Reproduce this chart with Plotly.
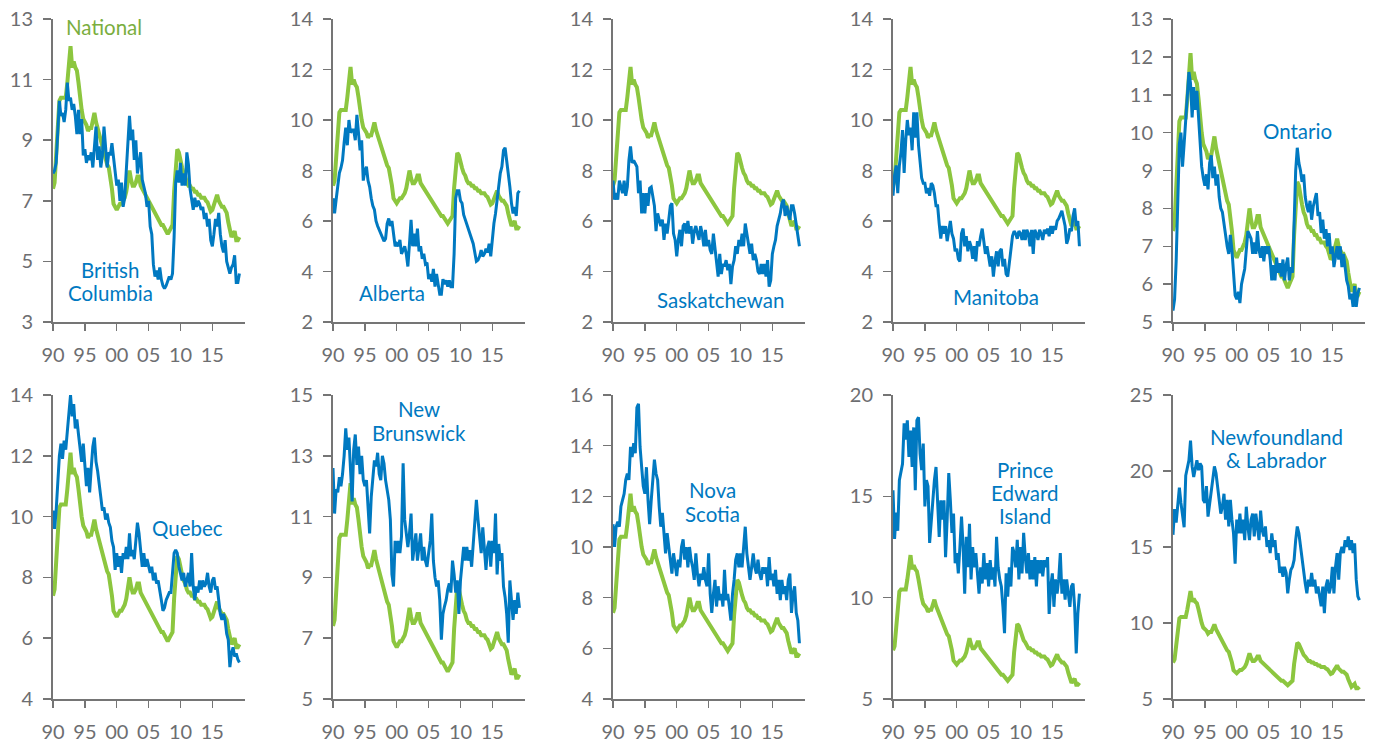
import plotly.graph_objects as go
import pandas as pd

# ---------------- data (quarterly) ----------------
dates = pd.date_range("1990-01-01", periods=118, freq="QS")

national = [7.4, 7.6, 8.5, 9.6, 10.3, 10.4, 10.4, 10.4, 10.4, 10.9, 11.5, 12.1,
            11.4, 11.6, 11.4, 11.3, 10.9, 10.3, 10.0, 9.7, 9.6, 9.5, 9.3, 9.4,
            9.4, 9.6, 9.9, 9.6, 9.4, 9.1, 8.9, 8.7, 8.5, 8.3, 8.2, 8.1,
            7.8, 7.4, 6.9, 6.8, 6.7, 6.8, 6.9, 6.9, 7.0, 7.1, 7.3, 7.8,
            8.0, 7.7, 7.5, 7.5, 7.6, 7.8, 7.8, 7.5, 7.4, 7.3, 7.2, 7.1,
            7.0, 6.9, 6.8, 6.7, 6.6, 6.5, 6.4, 6.3, 6.2, 6.2, 6.1, 6.0,
            5.9, 6.0, 6.1, 6.2, 7.3, 8.3, 8.7, 8.6, 8.3, 8.1, 7.9, 7.8,
            7.6, 7.5, 7.5, 7.4, 7.4, 7.3, 7.3, 7.2, 7.2, 7.1, 7.1, 7.1,
            7.0, 6.95, 6.8, 6.65, 6.7, 6.9, 7.1, 7.2, 7.0, 6.9, 6.8, 6.8,
            6.7, 6.6, 6.3, 6.1, 5.8, 5.9, 6.0, 5.7, 5.7, 5.8]

british_columbia = [7.9, 8.0, 8.25, 9.5, 10.3, 9.8, 9.9, 9.6, 10.0, 10.9, 10.3, 10.4,
                    10.0, 10.2, 9.8, 9.2, 10.0, 9.2, 9.7, 8.5, 8.7, 8.25, 8.5, 8.35,
                    8.6, 8.1, 8.7, 9.45, 8.35, 8.8, 8.1, 8.5, 9.45, 8.6, 8.1, 8.6,
                    8.5, 8.9, 8.4, 7.8, 7.5, 7.7, 7.0, 7.6, 6.8, 7.1, 8.1, 9.2,
                    9.8, 9.0, 9.35, 8.35, 9.0, 7.9, 8.35, 8.6, 7.7, 7.5, 7.25, 6.8,
                    7.0, 6.15, 5.9, 4.9, 4.5, 4.7, 4.4, 4.8, 4.4, 4.2, 4.1, 4.2,
                    4.4, 4.5, 4.4, 4.6, 5.8, 7.6, 8.0, 7.6, 8.25, 7.5, 7.9, 7.5,
                    8.6, 8.2, 7.4, 7.0, 6.7, 7.1, 6.8, 7.0, 6.9, 6.7, 6.8, 6.4,
                    6.6, 6.15, 6.4, 5.7, 5.5, 5.9, 6.4, 6.15, 6.6, 5.9, 5.5, 5.3,
                    5.7, 5.0, 4.8, 4.6, 4.8, 4.9, 5.2, 4.3, 4.3, 4.6]

alberta = [6.9, 6.3, 6.85, 7.5, 7.9, 8.1, 8.4, 9.1, 9.7, 9.0, 10.0, 9.5,
           9.6, 9.6, 9.2, 10.2, 9.3, 8.8, 9.2, 7.6, 8.0, 8.15, 7.6, 7.35,
           6.9, 6.6, 6.45, 6.0, 5.8, 5.65, 5.5, 5.4, 5.2, 5.3, 5.9, 6.1,
           5.8, 6.0, 5.5, 5.0, 5.1, 5.0, 5.25, 4.7, 4.85, 5.0, 4.7, 4.2,
           5.1, 6.05, 5.0, 5.5, 5.0, 5.7, 4.8, 5.0, 4.5, 4.7, 4.3, 4.35,
           3.7, 3.9, 3.6, 4.1, 3.4, 3.9, 3.5, 3.1, 3.1, 3.7, 3.5, 3.65,
           3.4, 3.65, 3.4, 3.4, 4.7, 6.9, 7.2, 7.2, 6.8, 6.7, 6.25, 6.05,
           5.8, 5.65, 5.5, 5.25, 5.1, 4.75, 4.4, 4.45, 4.6, 4.85, 4.6, 4.7,
           4.9, 4.75, 5.1, 4.6, 5.3, 5.9, 6.3, 6.85, 7.6, 7.9, 8.15, 8.8,
           8.9, 8.4, 8.0, 7.35, 6.7, 6.3, 6.55, 6.2, 7.1, 7.2]

saskatchewan = [7.6, 6.85, 7.1, 6.85, 7.6, 7.35, 7.1, 7.6, 7.0, 7.35, 8.4, 8.95,
                8.3, 8.4, 8.3, 8.15, 7.1, 7.6, 6.3, 7.1, 6.3, 7.1, 6.6, 7.3,
                7.35, 7.0, 6.6, 5.6, 6.3, 6.05, 5.8, 6.05, 5.25, 5.9, 5.5, 6.05,
                6.6, 6.7, 5.5, 5.25, 4.6, 5.25, 5.65, 5.0, 5.8, 5.9, 5.5, 6.0,
                5.5, 5.8, 5.1, 5.6, 5.8, 5.5, 5.25, 5.8, 5.5, 5.0, 5.65, 5.0,
                5.25, 4.85, 4.7, 5.5, 4.85, 4.2, 3.8, 4.7, 3.9, 4.3, 4.2, 4.45,
                4.05, 4.3, 3.5, 4.2, 4.45, 5.0, 4.7, 5.25, 5.0, 5.5, 5.0, 5.9,
                5.5, 5.0, 4.7, 5.1, 4.45, 4.7, 4.45, 4.0, 3.9, 4.3, 3.9, 4.3,
                3.8, 4.45, 3.4, 3.65, 4.7, 5.0, 5.25, 5.8, 6.05, 6.3, 6.7, 6.85,
                6.2, 6.6, 6.3, 6.05, 6.6, 6.6, 6.3, 5.9, 5.5, 5.0]

manitoba = [7.0, 7.8, 8.2, 7.1, 8.2, 8.7, 9.6, 7.9, 9.2, 10.0, 9.4, 9.7,
            8.8, 10.3, 9.3, 10.3, 9.0, 8.2, 7.7, 7.5, 7.5, 7.1, 7.3, 7.0,
            7.5, 7.4, 7.1, 6.6, 6.6, 5.9, 5.3, 5.8, 5.5, 5.8, 5.2, 5.6,
            6.0, 5.5, 5.3, 4.8, 4.9, 4.5, 4.4, 5.5, 5.7, 5.0, 5.4, 4.8,
            5.2, 5.0, 4.5, 5.0, 4.4, 5.2, 5.0, 5.4, 5.7, 5.2, 4.7, 5.0,
            4.5, 4.2, 4.6, 3.8, 4.4, 4.8, 4.2, 4.8, 4.9, 4.2, 4.5, 3.9,
            3.8, 4.3, 4.9, 5.4, 5.6, 5.5, 5.3, 5.6, 5.5, 5.25, 5.65, 5.25,
            5.65, 5.5, 5.0, 5.65, 4.7, 5.65, 5.5, 5.25, 5.65, 5.5, 5.25, 5.65,
            5.5, 5.7, 5.4, 5.8, 5.5, 5.8, 5.65, 6.0, 6.1, 6.3, 6.4, 6.1,
            5.8, 5.1, 5.3, 5.7, 5.6, 6.2, 6.5, 5.8, 6.0, 5.0]

ontario = [5.3, 5.6, 6.6, 8.3, 9.7, 10.0, 9.1, 9.7, 10.3, 10.9, 11.6, 11.3,
           10.4, 11.2, 10.6, 11.1, 10.3, 9.6, 9.1, 8.8, 8.6, 8.9, 8.5, 9.2,
           9.4, 8.8, 9.1, 8.6, 8.9, 8.3, 8.0, 7.9, 7.6, 7.2, 7.0, 6.8,
           7.3, 6.9, 6.3, 5.7, 5.6, 5.8, 5.5, 6.0, 6.2, 6.4, 6.9, 7.4,
           7.3, 7.2, 6.8, 7.1, 6.8, 7.4, 6.9, 6.7, 7.0, 6.6, 7.0, 6.8,
           7.0, 6.65, 6.1, 6.5, 6.1, 6.7, 6.3, 6.55, 6.2, 6.65, 6.1, 6.5,
           6.7, 6.1, 6.45, 6.3, 7.6, 9.0, 9.6, 9.2, 9.0, 8.7, 8.9, 8.3,
           8.05, 7.9, 8.2, 7.7, 8.05, 8.2, 8.4, 7.8, 7.9, 7.35, 7.7, 7.2,
           7.45, 7.0, 7.35, 6.8, 7.0, 6.45, 6.8, 7.0, 6.65, 7.0, 6.45, 6.8,
           6.45, 6.1, 5.95, 5.6, 5.75, 5.4, 5.95, 5.4, 5.75, 5.9]

quebec = [10.2, 9.6, 10.2, 11.2, 12.0, 12.4, 11.9, 12.5, 12.2, 12.8, 13.4, 14.0,
          13.3, 13.7, 12.9, 13.2, 12.7, 12.2, 11.8, 12.4, 11.8, 11.0, 11.6, 10.8,
          11.6, 12.3, 12.6, 11.8, 11.5, 10.95, 10.65, 10.2, 10.3, 9.9, 10.1, 9.8,
          9.65, 9.2, 9.0, 8.25, 8.8, 8.35, 8.7, 8.15, 8.8, 8.6, 9.0, 8.6,
          9.45, 8.7, 8.9, 8.6, 9.2, 9.8, 9.45, 9.0, 8.35, 8.8, 8.35, 8.6,
          8.35, 8.15, 8.35, 7.9, 8.15, 7.8, 7.9, 7.5, 7.25, 6.9, 7.0, 7.25,
          7.35, 7.5, 7.5, 8.15, 8.8, 8.9, 8.8, 8.35, 8.15, 7.9, 8.15, 7.7,
          7.9, 8.15, 7.7, 8.8, 7.7, 7.25, 7.7, 7.5, 7.9, 7.6, 7.9, 7.7,
          7.8, 8.15, 7.7, 7.5, 7.9, 8.0, 7.6, 7.7, 7.25, 6.8, 6.6, 6.8,
          6.6, 6.15, 5.95, 5.05, 5.5, 5.7, 5.4, 5.5, 5.3, 5.2]

new_brunswick = [12.6, 11.1, 11.9, 11.8, 12.3, 12.0, 12.4, 13.0, 13.9, 13.2, 13.6, 12.6,
                 11.5, 13.2, 13.7, 12.7, 13.3, 12.4, 13.0, 12.2, 12.0, 12.2, 11.1, 10.45,
                 11.65, 12.3, 12.85, 12.65, 13.1, 12.4, 12.2, 13.0, 12.75, 12.2, 11.9, 11.55,
                 10.9, 9.1, 8.7, 10.2, 9.8, 10.2, 9.8, 10.35, 12.75, 10.9, 10.45, 10.0,
                 10.45, 11.1, 9.55, 10.0, 10.45, 9.55, 10.0, 10.45, 9.55, 10.0, 9.55, 9.35,
                 9.8, 10.2, 11.1, 9.55, 9.0, 8.7, 8.9, 8.25, 6.95, 7.8, 8.05, 8.25,
                 8.6, 8.8, 8.5, 9.55, 9.1, 8.5, 8.9, 7.8, 8.9, 9.35, 10.0, 9.55,
                 10.0, 9.55, 9.9, 9.35, 10.2, 10.75, 11.55, 10.9, 10.2, 9.8, 10.65, 10.0,
                 9.25, 10.0, 10.2, 9.35, 10.2, 9.8, 11.1, 9.1, 10.1, 9.55, 9.8, 8.7,
                 8.35, 7.8, 6.85, 8.9, 8.05, 7.6, 8.25, 7.8, 8.5, 8.0]

nova_scotia = [10.9, 10.0, 10.8, 11.0, 10.8, 11.6, 11.85, 12.1, 12.65, 12.9, 12.65, 13.95,
               13.55, 14.1, 13.7, 15.5, 15.65, 13.95, 13.15, 12.4, 12.1, 13.15, 11.85, 10.9,
               11.85, 12.65, 13.45, 12.9, 12.65, 11.6, 10.8, 11.35, 10.3, 9.75, 10.55, 10.0,
               9.5, 8.95, 9.75, 9.2, 8.85, 9.5, 9.2, 10.0, 10.3, 9.5, 10.0, 9.2,
               10.0, 9.5, 9.2, 8.7, 9.75, 8.95, 8.45, 8.95, 8.7, 9.2, 8.7, 8.45,
               9.75, 8.15, 7.4, 8.15, 8.7, 7.65, 8.45, 7.9, 8.15, 7.65, 9.1, 7.9,
               8.15, 7.65, 7.1, 8.15, 8.7, 9.5, 9.75, 9.2, 9.75, 9.2, 10.0, 10.8,
               9.75, 9.2, 8.7, 9.2, 9.75, 9.2, 8.95, 9.5, 8.95, 8.7, 9.2, 8.95,
               9.2, 8.45, 9.6, 8.7, 8.95, 8.45, 9.1, 8.15, 8.7, 7.9, 8.7, 8.15,
               8.45, 7.9, 8.7, 8.95, 7.4, 8.15, 8.45, 7.4, 7.1, 6.2]

prince_edward_island = [15.3, 12.9, 14.2, 13.3, 15.8, 16.3, 16.6, 18.6, 17.8, 18.75, 16.95, 18.25,
                        16.45, 18.4, 15.3, 18.75, 18.9, 17.1, 16.3, 17.6, 14.5, 15.8, 15.5, 12.7,
                        13.85, 15.0, 15.8, 16.45, 14.8, 13.0, 14.8, 13.85, 14.8, 12.0, 13.85, 16.15,
                        14.8, 13.2, 14.15, 11.7, 12.2, 11.2, 12.5, 14.0, 12.5, 10.2, 13.0, 11.5,
                        13.65, 10.9, 12.5, 11.5, 12.2, 10.9, 10.2, 11.5, 10.7, 12.2, 10.9, 11.7,
                        10.55, 11.85, 10.9, 11.5, 10.55, 13.0, 11.5, 10.9, 10.55, 9.55, 8.25, 11.2,
                        10.05, 11.5, 10.55, 12.5, 12.2, 11.5, 12.85, 10.9, 12.5, 11.2, 13.2, 12.0,
                        11.2, 12.2, 10.9, 11.85, 10.9, 12.0, 10.55, 11.85, 11.2, 11.85, 11.05, 11.85,
                        11.5, 12.0, 9.2, 10.55, 11.2, 9.55, 10.9, 10.2, 10.9, 12.2, 10.2, 10.9,
                        9.9, 10.9, 10.2, 9.55, 10.55, 10.7, 9.55, 7.25, 9.2, 10.2]

newfoundland_labrador = [15.8, 17.5, 16.6, 18.0, 18.9, 17.9, 17.0, 16.3, 19.7, 20.2, 20.7, 22.0,
                         20.3, 19.6, 20.05, 20.7, 20.05, 20.5, 20.3, 18.1, 17.9, 19.0, 17.0, 17.9,
                         18.75, 19.4, 20.3, 19.85, 19.0, 18.1, 17.2, 17.65, 18.5, 16.8, 18.1, 16.35,
                         18.1, 16.8, 15.9, 13.9, 16.8, 15.9, 17.2, 15.9, 16.8, 15.45, 17.65, 16.35,
                         15.45, 16.8, 17.2, 15.7, 17.2, 16.35, 15.45, 17.4, 16.1, 15.7, 16.35, 15.0,
                         15.45, 14.6, 15.9, 15.0, 15.45, 14.15, 14.6, 13.3, 13.7, 13.05, 13.7, 13.3,
                         11.95, 12.85, 13.5, 13.7, 14.15, 15.45, 16.35, 15.9, 15.0, 14.15, 13.3, 12.6,
                         11.95, 12.85, 12.4, 13.3, 12.4, 12.85, 11.95, 12.4, 11.75, 11.1, 12.4, 10.65,
                         12.4, 12.85, 11.95, 12.4, 13.7, 11.95, 13.7, 14.6, 12.85, 14.6, 15.0, 14.6,
                         15.45, 15.0, 15.7, 14.8, 15.45, 14.6, 15.25, 12.85, 11.75, 11.5]

region_names = [["British", "Columbia"], ["Alberta"], ["Saskatchewan"], ["Manitoba"],
                ["Ontario"], ["Quebec"], ["New", "Brunswick"], ["Nova", "Scotia"],
                ["Prince", "Edward", "Island"], ["Newfoundland", "& Labrador"]]
region_values = [british_columbia, alberta, saskatchewan, manitoba, ontario,
                 quebec, new_brunswick, nova_scotia, prince_edward_island, newfoundland_labrador]
y_ranges = [[3, 13], [2, 14], [2, 14], [2, 14], [5, 13],
            [4, 14], [5, 15], [4, 16], [5, 20], [5, 25]]
y_dticks = [2, 2, 2, 2, 1, 2, 2, 2, 5, 5]
x_tick_years = [1990, 1995, 2000, 2005, 2010, 2015]
x_tick_labels = ["90", "95", "00", "05", "10", "15"]

# ---------------- layout / style ----------------
W, H = 1373, 740
GREEN = "#8cc63f"
GREEN_TXT = "#7aae3e"
BLUE = "#0079c1"
AXIS = "#757575"
TICKTXT = "#6d6e71"
FONT = "Lato"
LABEL_SIZE = 20.5
LINE_GAP = 23

col_left = [53, 333, 613, 893, 1173]
panel_w = 192
row_top = [19, 395]
row_bot = [322, 699]
label_pos = [(110, 281), (392, 293), (720, 300), (996, 297), (1297, 131),
             (187, 528), (419, 421), (712, 502), (1025, 493), (1276, 448)]


def px(x):
    return x / W


def py(y):
    return 1 - y / H


fig = go.Figure()
layout = dict(width=W, height=H, autosize=False,
              margin=dict(l=0, r=0, t=0, b=0, pad=0),
              paper_bgcolor="white", plot_bgcolor="white",
              showlegend=False, font=dict(family=FONT, color=TICKTXT))
annotations = []

tickvals = [pd.Timestamp(f"{y}-01-01") for y in x_tick_years]

for k in range(10):
    n = k + 1
    r, c = divmod(k, 5)
    xs = "x" if n == 1 else f"x{n}"
    ys = "y" if n == 1 else f"y{n}"
    xn = "xaxis" if n == 1 else f"xaxis{n}"
    yn = "yaxis" if n == 1 else f"yaxis{n}"
    fig.add_trace(go.Scatter(x=dates[:len(national)], y=national, mode="lines",
                             line=dict(color=GREEN, width=4), xaxis=xs, yaxis=ys,
                             hoverinfo="skip"))
    vals = region_values[k]
    fig.add_trace(go.Scatter(x=dates[:len(vals)], y=vals, mode="lines",
                             line=dict(color=BLUE, width=3), xaxis=xs, yaxis=ys,
                             hoverinfo="skip"))
    layout[xn] = dict(domain=[px(col_left[c]), px(col_left[c] + panel_w)], anchor=ys,
                      type="date", range=["1990-01-01", "2020-02-15"],
                      tickmode="array", tickvals=tickvals, ticktext=x_tick_labels,
                      showline=True, linecolor=AXIS, linewidth=2,
                      ticks="outside", ticklen=7, tickwidth=1.5, tickcolor=AXIS,
                      showgrid=False, zeroline=False, automargin=False,
                      ticklabelstandoff=7, ticklabeloverflow="allow",
                      tickfont=dict(family=FONT, size=20, color=TICKTXT))
    layout[yn] = dict(domain=[py(row_bot[r]), py(row_top[r])], anchor=xs,
                      range=y_ranges[k], dtick=y_dticks[k], tick0=y_ranges[k][0],
                      showline=True, linecolor=AXIS, linewidth=2,
                      ticks="outside", ticklen=8, tickwidth=1.5, tickcolor=AXIS,
                      showgrid=False, zeroline=False, automargin=False,
                      ticklabelstandoff=6, ticklabeloverflow="allow",
                      tickfont=dict(family=FONT, size=20, color=TICKTXT))
    lx, ly = label_pos[k]
    lines = region_names[k]
    for j, line in enumerate(lines):
        yy = ly + (j - (len(lines) - 1) / 2) * LINE_GAP
        annotations.append(dict(text=line, x=px(lx), y=py(yy),
                                xref="paper", yref="paper", showarrow=False,
                                xanchor="center", yanchor="middle",
                                font=dict(family=FONT, size=LABEL_SIZE, color=BLUE)))

annotations.append(dict(text="National", x=px(104), y=py(27),
                        xref="paper", yref="paper", showarrow=False,
                        xanchor="center", yanchor="middle",
                        font=dict(family=FONT, size=LABEL_SIZE, color=GREEN_TXT)))
layout["annotations"] = annotations
fig.update_layout(**layout)
fig.write_html("out.html",
               config={"displayModeBar": False, "staticPlot": True},
               post_script="document.body.style.margin='0';"
                           "document.body.style.overflow='hidden';")
